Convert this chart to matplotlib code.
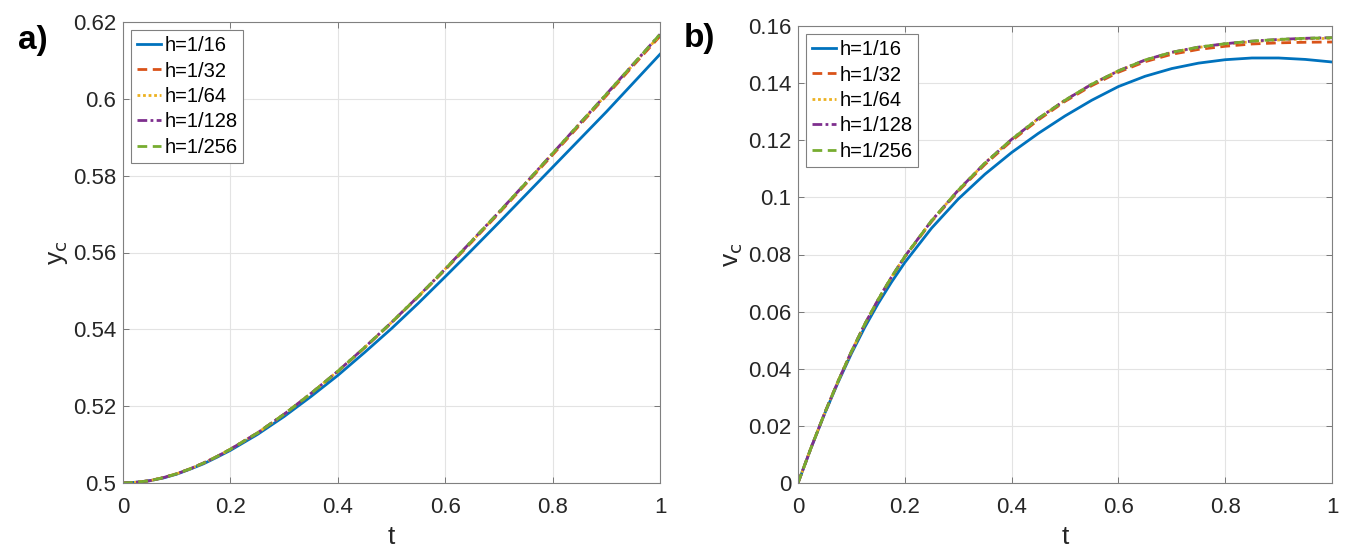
import matplotlib

matplotlib.use("Agg")
import matplotlib.pyplot as plt
from matplotlib.ticker import FuncFormatter, MultipleLocator

plt.rcParams["font.family"] = ["Liberation Sans", "DejaVu Sans"]

# time samples shared by all runs
t = [0.000, 0.025, 0.050, 0.075, 0.100, 0.125, 0.150, 0.175, 0.200, 0.250, 0.300,
     0.350, 0.400, 0.450, 0.500, 0.550, 0.600, 0.650, 0.700, 0.750, 0.800, 0.850,
     0.900, 0.950, 1.000]

labels = ["h=1/16", "h=1/32", "h=1/64", "h=1/128", "h=1/256"]

# y_c for each step size
yc_16 = [0.5000, 0.5002, 0.5006, 0.5013, 0.5023, 0.5036, 0.5050, 0.5067, 0.5085,
         0.5126, 0.5173, 0.5225, 0.5280, 0.5340, 0.5402, 0.5468, 0.5537, 0.5607,
         0.5678, 0.5750, 0.5822, 0.5894, 0.5966, 0.6041, 0.6116]
yc_32 = [0.5000, 0.5002, 0.5006, 0.5014, 0.5024, 0.5037, 0.5052, 0.5069, 0.5088,
         0.5130, 0.5179, 0.5233, 0.5290, 0.5352, 0.5417, 0.5485, 0.5555, 0.5628,
         0.5702, 0.5778, 0.5854, 0.5931, 0.6008, 0.6086, 0.6163]
yc_64 = [0.5000, 0.5002, 0.5006, 0.5014, 0.5024, 0.5037, 0.5052, 0.5069, 0.5088,
         0.5130, 0.5179, 0.5233, 0.5291, 0.5353, 0.5418, 0.5486, 0.5557, 0.5630,
         0.5704, 0.5780, 0.5857, 0.5934, 0.6011, 0.6089, 0.6166]
yc_128 = [0.5000, 0.5002, 0.5006, 0.5014, 0.5024, 0.5037, 0.5052, 0.5069, 0.5088,
          0.5130, 0.5179, 0.5233, 0.5291, 0.5353, 0.5418, 0.5486, 0.5557, 0.5631,
          0.5705, 0.5781, 0.5858, 0.5935, 0.6012, 0.6090, 0.6168]
yc_256 = [0.5000, 0.5002, 0.5006, 0.5014, 0.5024, 0.5037, 0.5052, 0.5069, 0.5088,
          0.5130, 0.5179, 0.5233, 0.5291, 0.5353, 0.5418, 0.5486, 0.5557, 0.5631,
          0.5705, 0.5781, 0.5858, 0.5935, 0.6012, 0.6090, 0.6168]

# v_c for each step size
vc_16 = [0.0000, 0.0125, 0.0243, 0.0352, 0.0453, 0.0545, 0.0628, 0.0703, 0.0772,
         0.0892, 0.0994, 0.1081, 0.1157, 0.1224, 0.1285, 0.1340, 0.1388, 0.1424,
         0.1451, 0.1470, 0.1482, 0.1488, 0.1488, 0.1483, 0.1474]
vc_32 = [0.0000, 0.0126, 0.0245, 0.0356, 0.0459, 0.0555, 0.0640, 0.0719, 0.0791,
         0.0915, 0.1021, 0.1115, 0.1198, 0.1271, 0.1336, 0.1391, 0.1438, 0.1475,
         0.1501, 0.1518, 0.1529, 0.1537, 0.1541, 0.1543, 0.1544]
vc_64 = [0.0000, 0.0126, 0.0245, 0.0356, 0.0460, 0.0556, 0.0642, 0.0721, 0.0793,
         0.0918, 0.1025, 0.1120, 0.1203, 0.1276, 0.1340, 0.1396, 0.1443, 0.1480,
         0.1507, 0.1525, 0.1537, 0.1545, 0.1551, 0.1555, 0.1557]
vc_128 = [0.0000, 0.0126, 0.0245, 0.0356, 0.0460, 0.0556, 0.0642, 0.0721, 0.0793,
          0.0918, 0.1025, 0.1120, 0.1203, 0.1276, 0.1340, 0.1396, 0.1443, 0.1481,
          0.1508, 0.1526, 0.1538, 0.1547, 0.1553, 0.1557, 0.1559]
vc_256 = [0.0000, 0.0126, 0.0245, 0.0356, 0.0460, 0.0556, 0.0642, 0.0721, 0.0793,
          0.0918, 0.1025, 0.1120, 0.1203, 0.1276, 0.1340, 0.1396, 0.1443, 0.1481,
          0.1508, 0.1526, 0.1538, 0.1547, 0.1553, 0.1557, 0.1559]

COLORS = ["#0072BD", "#D95319", "#EDB120", "#7E2F8E", "#77AC30"]
STYLES = ["-", (0, (3.5, 2.0)), (0, (1, 1)), (0, (3.5, 1.2, 1, 1.2)), (0, (3.5, 2.0))]
W, H = 1354, 556


def fmt(v, _pos):
    return f"{v:g}"


def setup_axes(rect, ylim, ystep, ylabel):
    x0, x1, y0, y1 = rect
    ax = fig.add_axes([x0 / W, (H - y1) / H, (x1 - x0) / W, (y1 - y0) / H])
    ax.set_xlim(0, 1)
    ax.set_ylim(*ylim)
    ax.xaxis.set_major_locator(MultipleLocator(0.2))
    ax.yaxis.set_major_locator(MultipleLocator(ystep))
    ax.xaxis.set_major_formatter(FuncFormatter(fmt))
    ax.yaxis.set_major_formatter(FuncFormatter(fmt))
    ax.grid(True, color="#e3e3e3", linewidth=0.8)
    ax.set_axisbelow(True)
    ax.tick_params(direction="in", length=4, width=0.6, color="#666666",
                   top=True, right=True, labelsize=16, labelcolor="#262626")
    ax.tick_params(axis="x", pad=10)
    ax.tick_params(axis="y", pad=5)
    for spine in ax.spines.values():
        spine.set_color("#808080")
        spine.set_linewidth(0.8)
    ax.set_xlabel("t", fontsize=19, color="#262626", labelpad=5)
    ax.set_ylabel(ylabel, fontsize=19, color="#262626", labelpad=2)
    return ax


fig = plt.figure(figsize=(W / 100, H / 100), dpi=100)

ax_a = setup_axes((123, 660, 22, 483), (0.5, 0.62), 0.02, r"y$_{\rm c}$")
for i, ys in enumerate([yc_16, yc_32, yc_64, yc_128, yc_256]):
    ax_a.plot(t, ys, color=COLORS[i], linestyle=STYLES[i], linewidth=2.0, label=labels[i])

ax_b = setup_axes((798, 1332, 26, 483), (0, 0.16), 0.02, r"v$_{\rm c}$")
for i, vs in enumerate([vc_16, vc_32, vc_64, vc_128, vc_256]):
    ax_b.plot(t, vs, color=COLORS[i], linestyle=STYLES[i], linewidth=2.0, label=labels[i])

for ax in (ax_a, ax_b):
    leg = ax.legend(loc="upper left", fontsize=14.5, handlelength=1.2, handletextpad=0.15,
                    labelspacing=0.32, borderpad=0.3, borderaxespad=0.4, fancybox=False,
                    framealpha=1, edgecolor="#808080")
    leg.get_frame().set_linewidth(0.8)

fig.text(33 / W, 1 - 41 / H, "a)", fontsize=24, fontweight="bold", ha="center", va="center")
fig.text(699 / W, 1 - 38 / H, "b)", fontsize=24, fontweight="bold", ha="center", va="center")

fig.savefig("out.png", dpi=100)
